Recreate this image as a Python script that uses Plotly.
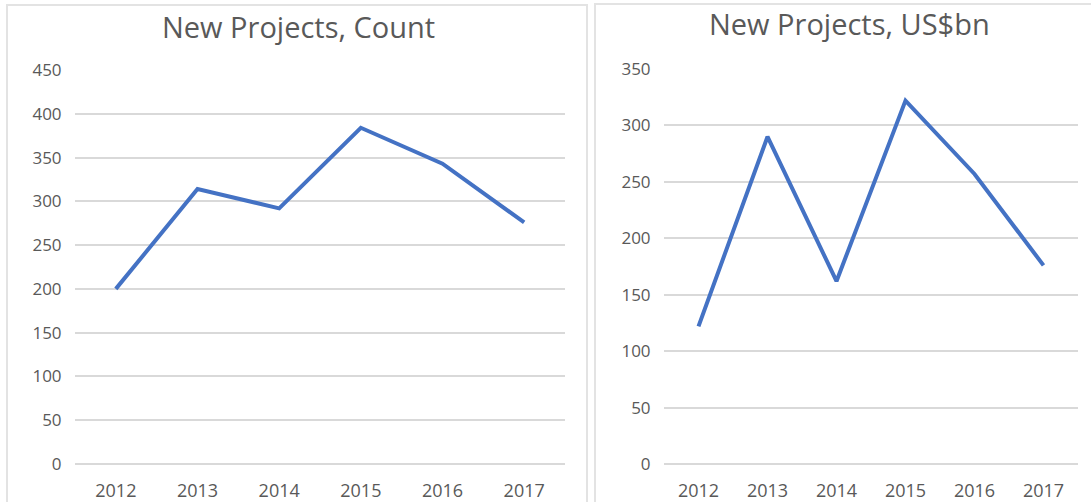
import plotly.graph_objects as go

W, H = 1091, 502

years = ["2012", "2013", "2014", "2015", "2016", "2017"]
count_values = [200, 314, 292, 384, 343, 276]
usd_values = [122, 290, 162, 322, 257, 176]
left_title = "New Projects, Count"
right_title = "New Projects, US$bn"
left_ticks = [0, 50, 100, 150, 200, 250, 300, 350, 400, 450]
right_ticks = [0, 50, 100, 150, 200, 250, 300, 350]

LINE = "#4472C4"
GRID = "#D9D9D9"
BORDER = "#E3E3E3"
TXT = "#595959"
FONT = "Open Sans"


def px_x(p):
    return p / W


def px_y(p):
    return 1 - p / H


fig = go.Figure()
fig.add_trace(go.Scatter(x=years, y=count_values, mode="lines",
                         line=dict(color=LINE, width=4), xaxis="x", yaxis="y",
                         showlegend=False, hoverinfo="x+y"))
fig.add_trace(go.Scatter(x=years, y=usd_values, mode="lines",
                         line=dict(color=LINE, width=4), xaxis="x2", yaxis="y2",
                         showlegend=False, hoverinfo="x+y"))

xcommon = dict(type="category", range=[-0.5, 5.5], showgrid=False, zeroline=False,
               showline=False, ticks="outside", ticklen=10, tickcolor="rgba(0,0,0,0)",
               tickfont=dict(family=FONT, size=18, color=TXT), fixedrange=True,
               automargin=False)
ycommon = dict(showgrid=True, gridcolor=GRID, gridwidth=1.5, zeroline=True,
               zerolinecolor=GRID, zerolinewidth=1.5, showline=False,
               ticks="outside", ticklen=9, tickcolor="rgba(0,0,0,0)",
               tickfont=dict(family=FONT, size=17, color=TXT), fixedrange=True,
               automargin=False)

fig.update_layout(
    template="none",
    width=W, height=H,
    margin=dict(l=0, r=0, t=0, b=0, pad=0),
    paper_bgcolor="white", plot_bgcolor="white",
    xaxis=dict(domain=[px_x(75), px_x(565)], anchor="y", **xcommon),
    yaxis=dict(domain=[px_y(464), px_y(70)], anchor="x", range=[0, 450],
               tickvals=left_ticks, **ycommon),
    xaxis2=dict(domain=[px_x(664), px_x(1078)], anchor="y2", **xcommon),
    yaxis2=dict(domain=[px_y(464), px_y(69)], anchor="x2", range=[0, 350],
                tickvals=right_ticks, **ycommon),
    shapes=[
        dict(type="rect", xref="paper", yref="paper", x0=px_x(7), x1=px_x(587),
             y0=-0.05, y1=px_y(5), line=dict(color=BORDER, width=2), layer="below"),
        dict(type="rect", xref="paper", yref="paper", x0=px_x(595), x1=1.05,
             y0=-0.05, y1=px_y(4), line=dict(color=BORDER, width=2), layer="below"),
    ],
    annotations=[
        dict(text=left_title, xref="paper", yref="paper", x=px_x(298), y=px_y(27),
             xanchor="center", yanchor="middle", showarrow=False,
             font=dict(family=FONT, size=29, color=TXT)),
        dict(text=right_title, xref="paper", yref="paper", x=px_x(849), y=px_y(24),
             xanchor="center", yanchor="middle", showarrow=False,
             font=dict(family=FONT, size=29, color=TXT)),
    ],
)

fig.write_html("out.html", config={"displayModeBar": False},
               post_script="document.body.style.margin='0';document.body.style.overflow='hidden';")
